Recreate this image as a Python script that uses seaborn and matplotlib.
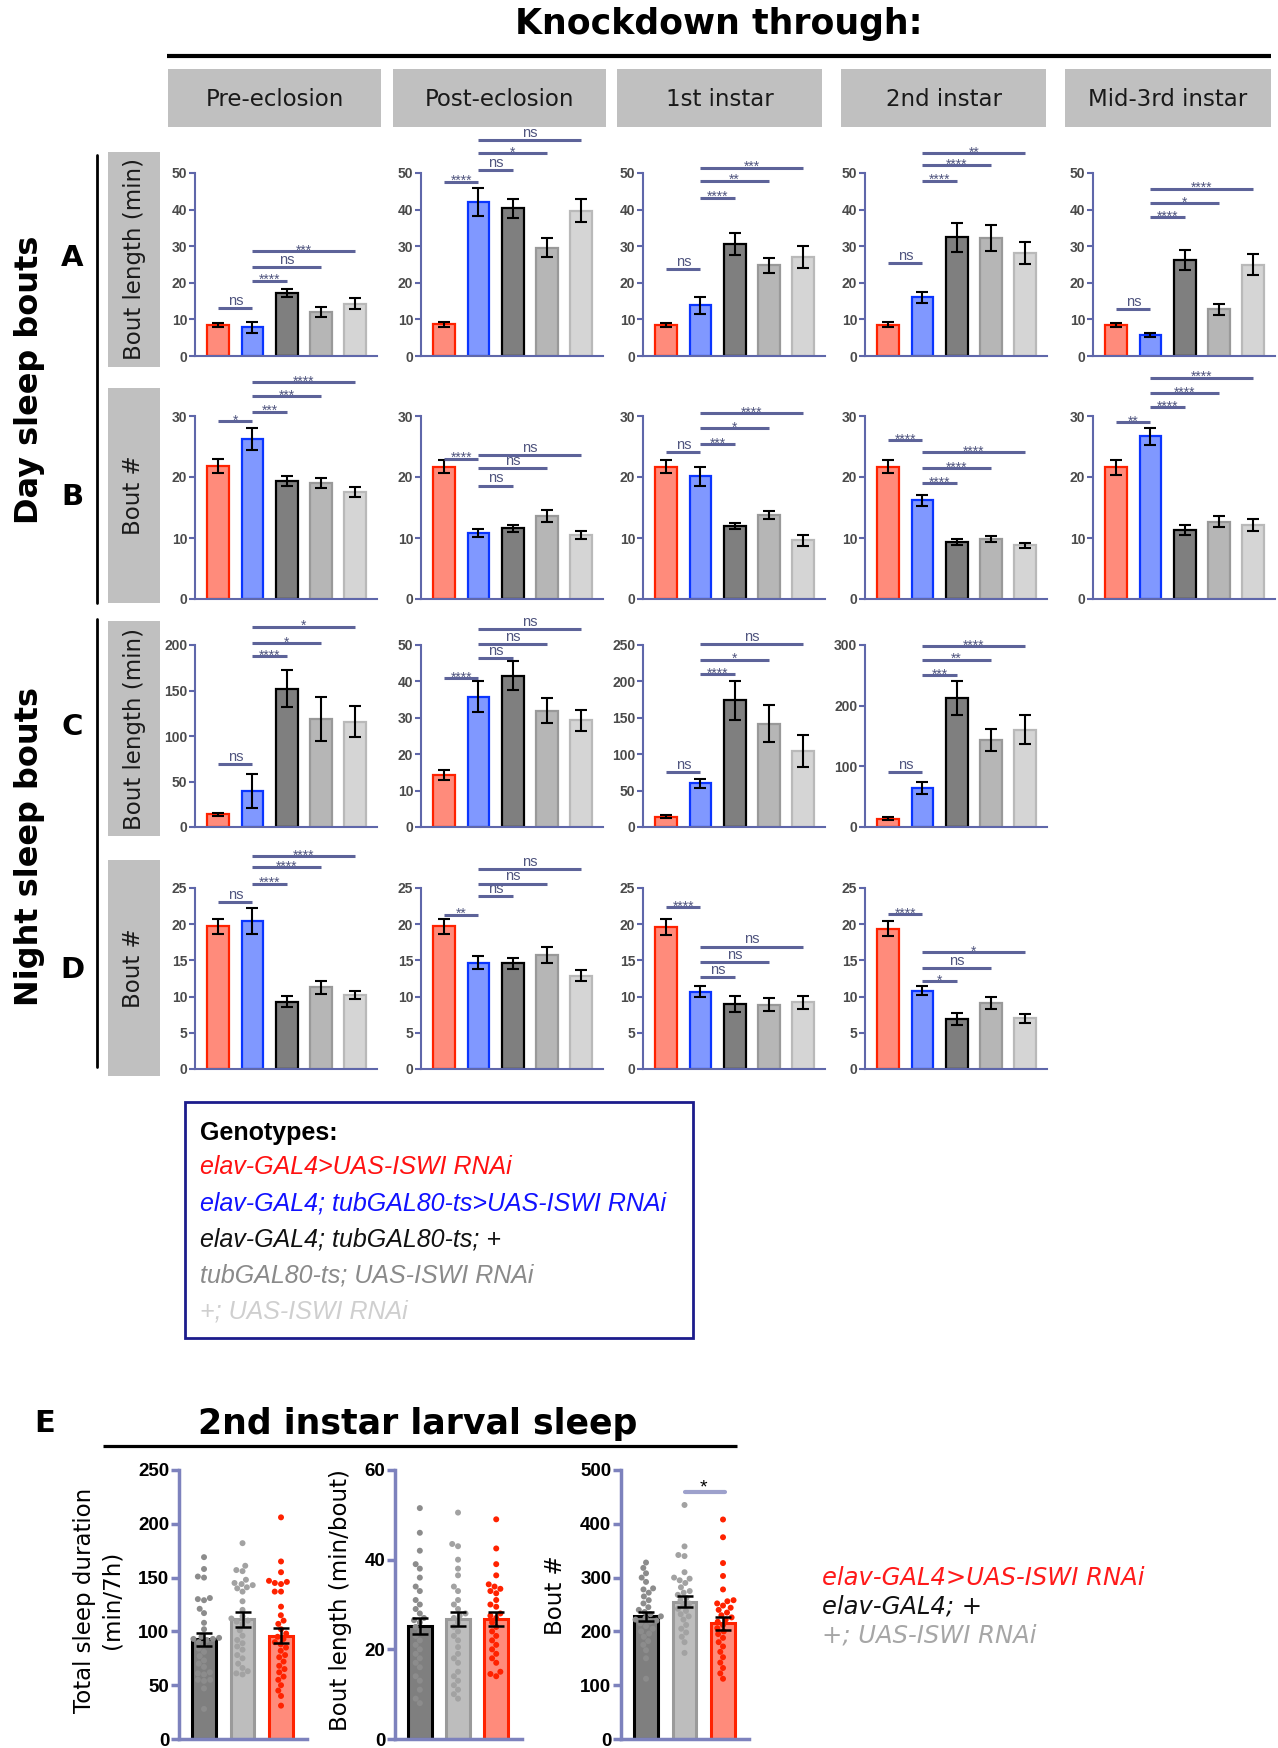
import warnings
import numpy as np
import pandas as pd
import seaborn as sns
import matplotlib.pyplot as plt
from matplotlib.patches import Rectangle

warnings.filterwarnings("ignore")

# ---------------- data ----------------
stages = ["Pre-eclosion", "Post-eclosion", "1st instar", "2nd instar", "Mid-3rd instar"]
genotypes = ["elav-GAL4>UAS-ISWI RNAi", "elav-GAL4; tubGAL80-ts>UAS-ISWI RNAi",
             "elav-GAL4; tubGAL80-ts; +", "tubGAL80-ts; UAS-ISWI RNAi", "+; UAS-ISWI RNAi"]

# A: day sleep bout length (min)
day_len_mean = [[8.5, 7.8, 17.2, 12.0, 14.3],
                [8.7, 42.0, 40.4, 29.6, 39.7],
                [8.5, 13.8, 30.5, 24.8, 27.1],
                [8.6, 16.0, 32.4, 32.3, 28.2],
                [8.5, 5.8, 26.3, 12.8, 25.0]]
day_len_err = [[0.6, 1.4, 1.2, 1.4, 1.5],
               [0.7, 3.8, 2.6, 2.6, 3.1],
               [0.6, 2.4, 3.0, 2.0, 3.0],
               [0.6, 1.6, 4.0, 3.5, 3.0],
               [0.6, 0.6, 2.7, 1.5, 2.9]]
day_len_sig = [[(0, 1, "ns", 13.1), (1, 2, "****", 20.6), (1, 3, "ns", 24.3), (1, 4, "***", 28.6)],
               [(0, 1, "****", 47.6), (1, 2, "ns", 50.9), (1, 3, "*", 55.4), (1, 4, "ns", 58.9)],
               [(0, 1, "ns", 23.8), (1, 2, "****", 43.3), (1, 3, "**", 47.9), (1, 4, "***", 51.5)],
               [(0, 1, "ns", 25.3), (1, 2, "****", 47.9), (1, 3, "****", 52.1), (1, 4, "**", 55.5)],
               [(0, 1, "ns", 12.9), (1, 2, "****", 37.9), (1, 3, "*", 41.7), (1, 4, "****", 45.7)]]
day_len_ymax = [50, 50, 50, 50, 50]
day_len_step = [10, 10, 10, 10, 10]

# B: day sleep bout number
day_num_mean = [[21.8, 26.3, 19.4, 19.0, 17.5],
                [21.7, 10.8, 11.6, 13.6, 10.5],
                [21.7, 20.1, 11.9, 13.8, 9.6],
                [21.7, 16.2, 9.3, 9.9, 8.8],
                [21.6, 26.7, 11.3, 12.7, 12.1]]
day_num_err = [[1.1, 1.8, 0.8, 0.8, 0.8],
               [1.1, 0.6, 0.6, 1.0, 0.7],
               [1.1, 1.6, 0.5, 0.7, 0.9],
               [1.1, 0.9, 0.5, 0.5, 0.4],
               [1.2, 1.4, 0.8, 0.9, 1.0]]
day_num_sig = [[(0, 1, "*", 29.2), (1, 2, "***", 30.7), (1, 3, "***", 33.3), (1, 4, "****", 35.5)],
               [(0, 1, "****", 23.0), (1, 2, "ns", 18.6), (1, 3, "ns", 21.4), (1, 4, "ns", 23.6)],
               [(0, 1, "ns", 24.1), (1, 2, "***", 25.4), (1, 3, "*", 28.0), (1, 4, "****", 30.5)],
               [(0, 1, "****", 26.0), (1, 2, "****", 19.0), (1, 3, "****", 21.4), (1, 4, "****", 24.1)],
               [(0, 1, "**", 29.0), (1, 2, "****", 31.5), (1, 3, "****", 33.7), (1, 4, "****", 36.3)]]
day_num_ymax = [30, 30, 30, 30, 30]
day_num_step = [10, 10, 10, 10, 10]

# C: night sleep bout length (min)
night_len_mean = [[13.9, 39.5, 152, 118.5, 115.5],
                  [14.3, 35.8, 41.6, 32.0, 29.3],
                  [14, 60, 174, 142, 105],
                  [14, 65, 213, 144, 160]]
night_len_err = [[2, 19, 20, 24, 17],
                 [1.4, 4.2, 4.0, 3.4, 2.8],
                 [2, 6, 27, 25, 22],
                 [2.5, 10, 28, 18, 24]]
night_len_sig = [[(0, 1, "ns", 69), (1, 2, "****", 187.6), (1, 3, "*", 202), (1, 4, "*", 220)],
                 [(0, 1, "****", 40.8), (1, 2, "ns", 46.3), (1, 3, "ns", 50.3), (1, 4, "ns", 54.3)],
                 [(0, 1, "ns", 75), (1, 2, "****", 210), (1, 3, "*", 230), (1, 4, "ns", 251)],
                 [(0, 1, "ns", 90), (1, 2, "***", 250), (1, 3, "**", 276), (1, 4, "****", 298)]]
night_len_ymax = [200, 50, 250, 300]
night_len_step = [50, 10, 50, 100]

# D: night sleep bout number
night_num_mean = [[19.7, 20.5, 9.3, 11.3, 10.2],
                  [19.7, 14.7, 14.6, 15.8, 12.9],
                  [19.6, 10.7, 9.0, 8.9, 9.2],
                  [19.4, 10.8, 6.9, 9.1, 7.0]]
night_num_err = [[1.0, 1.8, 0.8, 0.9, 0.6],
                 [1.0, 0.9, 0.8, 1.1, 0.8],
                 [1.1, 0.8, 1.1, 0.9, 0.85],
                 [1.0, 0.6, 0.8, 0.8, 0.65]]
night_num_sig = [[(0, 1, "ns", 23.0), (1, 2, "****", 25.6), (1, 3, "****", 27.9), (1, 4, "****", 29.4)],
                 [(0, 1, "**", 21.3), (1, 2, "ns", 23.9), (1, 3, "ns", 25.6), (1, 4, "ns", 27.6)],
                 [(0, 1, "****", 22.4), (1, 2, "ns", 12.7), (1, 3, "ns", 14.8), (1, 4, "ns", 16.9)],
                 [(0, 1, "****", 21.4), (1, 2, "*", 12.1), (1, 3, "ns", 13.9), (1, 4, "*", 16.1)]]
night_num_ymax = [25, 25, 25, 25]
night_num_step = [5, 5, 5, 5]

# E: 2nd instar larval sleep
e_groups = ["elav-GAL4; +", "+; UAS-ISWI RNAi", "elav-GAL4>UAS-ISWI RNAi"]
tsd_mean = [92.6, 111.2, 96.0]
tsd_err = [6.2, 6.7, 6.8]
tsd_pts = [
    [169, 158, 151, 150, 131, 130, 129, 121, 117, 108, 102, 95, 94, 93, 93, 92, 90, 87,
     84, 81, 77, 73, 70, 67, 62, 61, 60, 55, 55, 54, 47, 28],
    [182, 161, 157, 156, 148, 145, 144, 143, 141, 140, 137, 128, 120, 114, 112, 110, 109,
     107, 101, 96, 92, 89, 86, 83, 78, 75, 70, 66, 63, 61, 60],
    [206, 165, 155, 147, 146, 145, 144, 137, 137, 123, 115, 110, 107, 102, 98, 95, 93, 90,
     88, 85, 82, 78, 76, 72, 68, 65, 62, 58, 55, 50, 45, 40, 31],
]
bl_mean = [25.2, 26.7, 26.8]
bl_err = [1.8, 1.6, 1.5]
bl_pts = [
    [51.5, 46, 42, 39, 38, 36, 34, 33, 31, 30, 29, 28, 27, 26.5, 26, 25, 24, 23, 22, 21,
     20, 19, 18, 17, 16, 14, 13, 11, 9, 8],
    [50.5, 43.5, 43, 40, 38, 36.5, 34, 33, 31, 30, 29, 28, 27.5, 27, 26, 25, 24, 23, 22,
     20.5, 19, 18, 17, 15, 14, 13, 12, 11, 10, 9],
    [49, 42.5, 39, 36.5, 34.5, 34, 33.5, 33, 32.5, 31, 30, 29.5, 28, 27.5, 27, 26, 25, 24,
     23, 22, 21, 20, 19, 18, 17, 15, 14.5, 14],
]
bn_mean = [228, 255, 215]
bn_err = [8.4, 10.5, 11.5]
bn_pts = [
    [328, 318, 308, 300, 292, 280, 278, 272, 265, 258, 252, 245, 240, 236, 232, 228, 225,
     222, 220, 218, 215, 210, 205, 200, 196, 190, 182, 175, 165, 150, 112],
    [435, 358, 342, 340, 310, 300, 298, 295, 290, 282, 275, 272, 268, 262, 258, 252, 248,
     242, 238, 232, 228, 222, 212, 205, 198, 190, 180, 160],
    [408, 375, 327, 303, 278, 258, 256, 252, 248, 244, 240, 235, 230, 226, 222, 218, 212,
     206, 200, 195, 188, 180, 172, 162, 152, 142, 132, 122, 112],
]

# ---------------- styles ----------------
W, H, DPI = 1278, 1748, 100
faces = ["#ff8b7b", "#8098ff", "#7f7f7f", "#b6b6b6", "#d5d5d5"]
edges = ["#ff2200", "#0a35ff", "#000000", "#999999", "#b9b9b9"]
e_faces = ["#7f7f7f", "#bdbdbd", "#ff8b7b"]
e_edges = ["#000000", "#9a9a9a", "#ff2200"]
e_points = ["#8c8c8c", "#a2a2a2", "#ff2200"]
spine_col = "#5f67aa"
sig_col = "#5d6399"
sig_txt = "#50557f"

sns.set_theme(style="white")
plt.rcParams["font.family"] = ["DejaVu Sans"]
plt.rcParams["text.color"] = "black"

fig = plt.figure(figsize=(W / DPI, H / DPI), dpi=DPI)

bg = fig.add_axes([0, 0, 1, 1])
bg.set_xlim(0, W)
bg.set_ylim(H, 0)
bg.axis("off")


def px_axes(x0, y0, x1, y1):
    a = fig.add_axes([x0 / W, 1 - y1 / H, (x1 - x0) / W, (y1 - y0) / H])
    a.set_facecolor("none")
    return a


def bars(ax, cats, means, errs, fcs, ecs, width, elw, errlw, cap):
    df = pd.DataFrame({"genotype": cats, "value": means})
    sns.barplot(data=df, x="genotype", y="value", hue="genotype", order=cats,
                hue_order=cats, palette=fcs, saturation=1, width=width,
                errorbar=None, legend=False, ax=ax, zorder=2)
    for p, ec in zip(sorted(ax.patches, key=lambda p: p.get_x()), ecs):
        p.set_edgecolor(ec)
        p.set_linewidth(elw)
    ax.errorbar(np.arange(len(cats)), means, yerr=errs, fmt="none", ecolor="black",
                elinewidth=errlw, capsize=cap, capthick=errlw, zorder=6)


def sig_bars(ax, sigs):
    for i, j, lab, y in sigs:
        ax.plot([i, j], [y, y], color=sig_col, lw=2.2, clip_on=False,
                solid_capstyle="butt", zorder=7)
        if lab == "ns":
            ax.annotate(lab, xy=((i + j) / 2, y), xytext=(0, 2.3), textcoords="offset points",
                        ha="center", va="baseline", fontsize=10.5, color=sig_txt,
                        family="Liberation Sans", annotation_clip=False)
        else:
            ax.annotate(lab, xy=((i + j) / 2, y), xytext=(0, -2.5), textcoords="offset points",
                        ha="center", va="baseline", fontsize=10, color=sig_txt,
                        family="Liberation Sans", annotation_clip=False)


def style_small(ax, ymax, step):
    sns.despine(ax=ax)
    ax.set_xlim(-0.68, 4.64)
    ax.set_ylim(0, ymax)
    ax.set_yticks(np.arange(0, ymax + 1, step))
    ax.set_xticks([])
    ax.set_xlabel("")
    ax.set_ylabel("")
    for s in ["left", "bottom"]:
        ax.spines[s].set_color(spine_col)
        ax.spines[s].set_linewidth(1.5)
    ax.tick_params(axis="y", left=True, length=4, width=1.5, color=spine_col, pad=1.5,
                   labelsize=10, labelcolor="#4a4a4a")
    for t in ax.get_yticklabels():
        t.set_fontweight("bold")
        t.set_fontfamily("Liberation Sans")


# ---------------- top panels ----------------
col_x = [195, 421, 643, 865, 1093]
rows = [
    (day_len_mean, day_len_err, day_len_sig, day_len_ymax, day_len_step, 173, 356),
    (day_num_mean, day_num_err, day_num_sig, day_num_ymax, day_num_step, 416, 599),
    (night_len_mean, night_len_err, night_len_sig, night_len_ymax, night_len_step, 645, 827),
    (night_num_mean, night_num_err, night_num_sig, night_num_ymax, night_num_step, 888, 1069),
]
for means_r, errs_r, sig_r, ymax_r, step_r, top, bot in rows:
    for c in range(len(means_r)):
        ax = px_axes(col_x[c], top, col_x[c] + 182, bot)
        bars(ax, genotypes, means_r[c], errs_r[c], faces, edges, 0.64, 1.6, 1.5, 4.5)
        sig_bars(ax, sig_r[c])
        style_small(ax, ymax_r[c], step_r[c])

# headers
bg.text(719, 24, "Knockdown through:", fontsize=25, fontweight="bold", ha="center", va="center")
bg.plot([167, 1271], [56, 56], color="black", lw=3, solid_capstyle="butt")
head_x = [(168, 381), (393, 606), (617, 822), (841, 1046), (1065, 1271)]
for (x0, x1), name in zip(head_x, stages):
    bg.add_patch(Rectangle((x0, 69), x1 - x0, 58, facecolor="#c0c0c0", edgecolor="none"))
    bg.text((x0 + x1) / 2, 99, name, fontsize=16.5, ha="center", va="center", color="#1a1a1a")

# row labels
box_y = [(152, 367, "Bout length (min)"), (388, 603, "Bout #"),
         (621, 836, "Bout length (min)"), (860, 1076, "Bout #")]
for y0, y1, lab in box_y:
    bg.add_patch(Rectangle((108, y0), 52, y1 - y0, facecolor="#c0c0c0", edgecolor="none"))
    bg.text(134, (y0 + y1) / 2, lab, fontsize=16.5, rotation=90, ha="center", va="center",
            color="#1a1a1a")
for y, letter in zip([258, 497, 727, 970], "ABCD"):
    bg.text(72, y, letter, fontsize=21, fontweight="bold", ha="center", va="center")
bg.plot([97, 97], [155, 603], color="black", lw=2)
bg.plot([97, 97], [619, 1067], color="black", lw=2)
bg.text(30, 380, "Day sleep bouts", fontsize=23, fontweight="bold", rotation=90,
        ha="center", va="center")
bg.text(30, 846, "Night sleep bouts", fontsize=23, fontweight="bold", rotation=90,
        ha="center", va="center")

# genotype legend box
bg.add_patch(Rectangle((185, 1102), 508, 236, facecolor="none", edgecolor="#1c1c8c", lw=2))
bg.text(200, 1140, "Genotypes:", fontsize=18, fontweight="bold", family="Liberation Sans",
        va="baseline")
leg_cols = ["#ff1111", "#1111ff", "#111111", "#8a8a8a", "#cfcfcf"]
for k, (g, col) in enumerate(zip(genotypes, leg_cols)):
    bg.text(200, 1174 + 36.2 * k, g, fontsize=18, style="italic", family="Liberation Sans",
            color=col, va="baseline")

# ---------------- panel E ----------------
bg.text(45, 1423, "E", fontsize=22, fontweight="bold", ha="center", va="center")
bg.text(418, 1424, "2nd instar larval sleep", fontsize=25, fontweight="bold",
        ha="center", va="center")
bg.plot([103, 737], [1446, 1446], color="black", lw=2.3, solid_capstyle="butt")

e_axes = [(179, 307), (395, 522), (621, 749)]
e_sets = [(tsd_mean, tsd_err, tsd_pts, 250, 50),
          (bl_mean, bl_err, bl_pts, 60, 20),
          (bn_mean, bn_err, bn_pts, 500, 100)]
e_axs = []
for (x0, x1), (m, e, pts, ymax, step) in zip(e_axes, e_sets):
    ax = px_axes(x0, 1470, x1, 1739)
    bars(ax, e_groups, m, e, e_faces, e_edges, 0.62, 2.2, 1.8, 6)
    df_pts = pd.DataFrame({"genotype": np.repeat(e_groups, [len(p) for p in pts]),
                           "value": np.concatenate(pts)})
    ax.set_xlim(-0.65, 2.675)
    ax.set_ylim(0, ymax)
    sns.swarmplot(data=df_pts, x="genotype", y="value", hue="genotype", order=e_groups,
                  hue_order=e_groups, palette=e_points, size=4.3, legend=False, ax=ax,
                  zorder=4)
    sns.despine(ax=ax)
    ax.set_xlim(-0.65, 2.675)
    ax.set_ylim(0, ymax)
    ax.set_yticks(np.arange(0, ymax + 1, step))
    ax.set_xticks([])
    ax.set_xlabel("")
    ax.set_ylabel("")
    for s in ["left", "bottom"]:
        ax.spines[s].set_color("#7d82bd")
        ax.spines[s].set_linewidth(2.5)
    ax.tick_params(axis="y", left=True, length=6, width=2.5, color="#7d82bd", pad=1,
                   labelsize=13.5, labelcolor="black")
    for t in ax.get_yticklabels():
        t.set_fontweight("bold")
        t.set_fontfamily("Liberation Sans")
    e_axs.append(ax)

e_axs[2].plot([1, 2.05], [460, 460], color="#9da1cc", lw=3, clip_on=False,
              solid_capstyle="round", zorder=7)
e_axs[2].annotate("*", xy=(1.5, 460), xytext=(0, -1), textcoords="offset points",
                  ha="center", va="baseline", fontsize=14, family="Liberation Sans",
                  annotation_clip=False)

bg.text(98, 1600, "Total sleep duration\n(min/7h)", fontsize=16.5, rotation=90,
        ha="center", va="center", multialignment="center", linespacing=1.25)
bg.text(340, 1600, "Bout length (min/bout)", fontsize=16.5, rotation=90,
        ha="center", va="center")
bg.text(555, 1595, "Bout #", fontsize=16.5, rotation=90, ha="center", va="center")

e_leg = ["elav-GAL4>UAS-ISWI RNAi", "elav-GAL4; +", "+; UAS-ISWI RNAi"]
e_leg_cols = ["#ff1a1a", "#111111", "#a6a6a6"]
for k, (g, col) in enumerate(zip(e_leg, e_leg_cols)):
    bg.text(822, 1585 + 28.6 * k, g, fontsize=17.5, style="italic", color=col, va="baseline")

fig.savefig("out.png", dpi=DPI)
